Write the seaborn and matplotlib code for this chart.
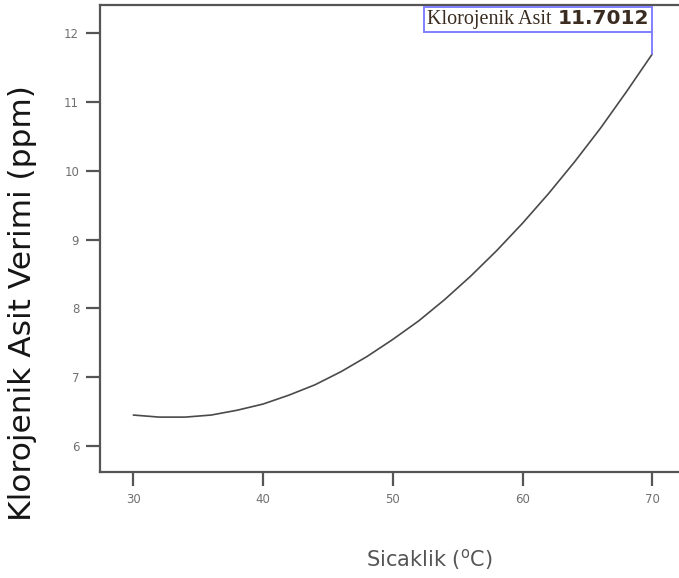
import matplotlib
matplotlib.use("Agg")
import matplotlib.pyplot as plt
import seaborn as sns
import pandas as pd
from matplotlib.offsetbox import TextArea, HPacker, AnnotationBbox

# values
sicaklik = [30, 32, 34, 36, 38, 40, 42, 44, 46, 48, 50,
            52, 54, 56, 58, 60, 62, 64, 66, 68, 70]
verim = [6.45, 6.42, 6.42, 6.45, 6.52, 6.61, 6.74, 6.89, 7.08, 7.30, 7.55,
         7.82, 8.13, 8.47, 8.84, 9.24, 9.67, 10.13, 10.62, 11.15, 11.7012]
x_ticks = [30, 40, 50, 60, 70]
y_ticks = [6, 7, 8, 9, 10, 11, 12]
etiket = "Klorojenik Asit"
etiket_deger = "11.7012"

df = pd.DataFrame({"sicaklik": sicaklik, "verim": verim})

sns.set_style("ticks")
plt.rcParams["font.family"] = ["DejaVu Sans"]

fig = plt.figure(figsize=(6.79, 5.78), dpi=100)
ax = fig.add_axes([100 / 679, 1 - 471.7 / 578, 579 / 679, 466.7 / 578])

sns.lineplot(data=df, x="sicaklik", y="verim", ax=ax, color="#4a4a4a", linewidth=1.2)

ax.set_xlim(27.43, 72.06)
ax.set_ylim(5.626, 12.414)
ax.set_xticks(x_ticks)
ax.set_yticks(y_ticks)

for s in ["left", "bottom", "top"]:
    ax.spines[s].set_color("#555555")
    ax.spines[s].set_linewidth(1.6)
ax.spines["right"].set_visible(False)

ax.tick_params(axis="both", direction="out", length=10, width=1.6, color="#555555",
               labelsize=8.5, labelcolor="#707070", pad=5)

ax.set_xlabel("Sicaklik (" + r"$^{\mathrm{o}}$" + "C)", fontsize=15, color="#555555",
              va="center")
ax.xaxis.set_label_coords(0.568, -0.189)
ax.set_ylabel("Klorojenik Asit Verimi (ppm)", fontsize=22.5, color="#151515",
              va="center", fontweight="medium")
ax.yaxis.set_label_coords(-0.1347, 0.3604)

# label box at the end of the curve
box_bottom = 12.02
t1 = TextArea(etiket, textprops=dict(family="Liberation Serif", fontsize=14.5, color="#3a2c20"))
t2 = TextArea(etiket_deger, textprops=dict(family="DejaVu Sans", fontsize=14.5,
                                           color="#3a2c20", fontweight="bold"))
pack = HPacker(children=[t1, t2], align="baseline", pad=2, sep=5)
ab = AnnotationBbox(pack, (sicaklik[-1], box_bottom), xycoords="data",
                    box_alignment=(1, 0), pad=0, frameon=True,
                    bboxprops=dict(edgecolor="#8080ff", facecolor="white", linewidth=1.4),
                    annotation_clip=False)
ab.set_zorder(6)
ax.add_artist(ab)
ax.plot([sicaklik[-1], sicaklik[-1]], [verim[-1], box_bottom], color="#8080ff",
        linewidth=1.4, clip_on=False, zorder=5)

fig.savefig("out.png", dpi=100)
